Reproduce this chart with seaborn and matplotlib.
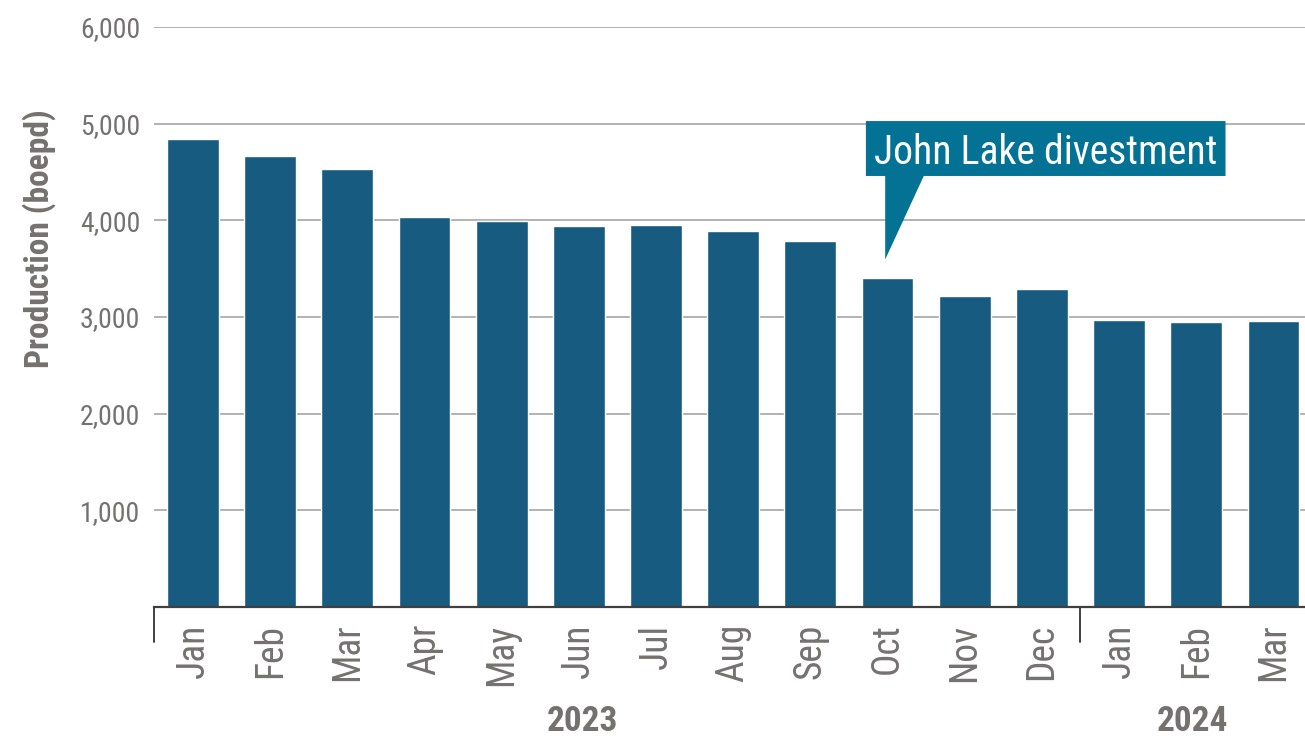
import numpy as np
import pandas as pd
import matplotlib
matplotlib.use("Agg")
import matplotlib.pyplot as plt
from matplotlib import font_manager
from matplotlib.patches import Polygon
from matplotlib.transforms import blended_transform_factory
import seaborn as sns

# Monthly production, boe per day
months = ["Jan", "Feb", "Mar", "Apr", "May", "Jun", "Jul", "Aug", "Sep", "Oct",
          "Nov", "Dec", "Jan", "Feb", "Mar"]
years = [2023] * 12 + [2024] * 3
production = [4840, 4665, 4530, 4035, 3995, 3940, 3950, 3890, 3785, 3405,
              3215, 3290, 2970, 2945, 2960]
yticks = [1000, 2000, 3000, 4000, 5000, 6000]
callout_text = "John Lake divestment"
callout_index = 9  # Oct 2023

BAR = "#175C80"
CALLOUT = "#037294"
TEXT = "#767171"
GRID = "#A6A6A6"
AXIS = "#404040"

sns.set_theme(style="white")
available = {f.name for f in font_manager.fontManager.ttflist}
family = next((f for f in ["Liberation Sans Narrow", "Roboto Condensed",
                           "Liberation Sans"] if f in available), "DejaVu Sans")
plt.rcParams["font.family"] = [family, "DejaVu Sans"]

df = pd.DataFrame({
    "period": [f"{m} {y}" for m, y in zip(months, years)],
    "boepd": production,
})

fig = plt.figure(figsize=(13.05, 7.40), dpi=100)
ax = fig.add_axes([0.1183, 0.1797, 1 - 0.1183, 0.9635 - 0.1797])

sns.barplot(data=df, x="period", y="boepd", color=BAR, saturation=1,
            width=0.67, ax=ax, zorder=2)

ax.set_yticks(yticks)
ax.set_yticklabels([f"{v:,}" for v in yticks])
ax.yaxis.grid(True, color=GRID, lw=1.2)
ax.set_axisbelow(True)

for s in ["left", "top", "right"]:
    ax.spines[s].set_visible(False)
ax.spines["bottom"].set_color(AXIS)
ax.spines["bottom"].set_linewidth(1.6)

ax.set_xlabel("")
ax.set_ylabel("")
ax.set_xticks(range(len(months)))
ax.set_xticklabels(months, rotation=90)
ax.set_xticks(np.arange(-0.5, len(months) - 1, 1), minor=True)
ax.tick_params(axis="x", which="major", length=0, pad=12,
               labelsize=27, labelcolor=TEXT)
ax.tick_params(axis="x", which="minor", length=7, width=1.2, color=AXIS)
ax.tick_params(axis="y", which="major", length=0, pad=10,
               labelsize=20, labelcolor=TEXT)

# limits set after the ticks so the view is not widened by them
ax.set_ylim(0, 6000)
ax.set_xlim(-0.5, 14.41)

# Year separators and year labels
for b in [-0.5, 11.5]:
    ax.axvline(b, ymin=-0.06, ymax=0, color=AXIS, lw=1.4, clip_on=False)
trans = blended_transform_factory(ax.transData, ax.transAxes)
for label, xpos in [("2023", 5.05), ("2024", 12.95)]:
    ax.text(xpos, -0.198, label, transform=trans, ha="center", va="center",
            fontsize=25.5, fontweight="bold", color=TEXT)

fig.text(0.030, 0.678, "Production (boepd)", rotation=90, ha="center",
         va="center", fontsize=24, fontweight="bold", color=TEXT)

# Callout box pointing at the divestment month
tip_x = callout_index
tip_y = production[callout_index] + 190
x0, x1 = tip_x - 0.28, tip_x + 4.38
y0, y1 = 4459, 5027
verts = [(x0, y0), (tip_x - 0.03, y0), (tip_x - 0.03, tip_y),
         (tip_x + 0.47, y0), (x1, y0), (x1, y1), (x0, y1)]
ax.add_patch(Polygon(verts, closed=True, facecolor=CALLOUT, edgecolor="none",
                     zorder=5, clip_on=False))
ax.text((x0 + x1) / 2, (y0 + y1) / 2, callout_text, ha="center",
        va="center_baseline", fontsize=28.5, color="white", zorder=6)

fig.savefig("out.png", dpi=100)
